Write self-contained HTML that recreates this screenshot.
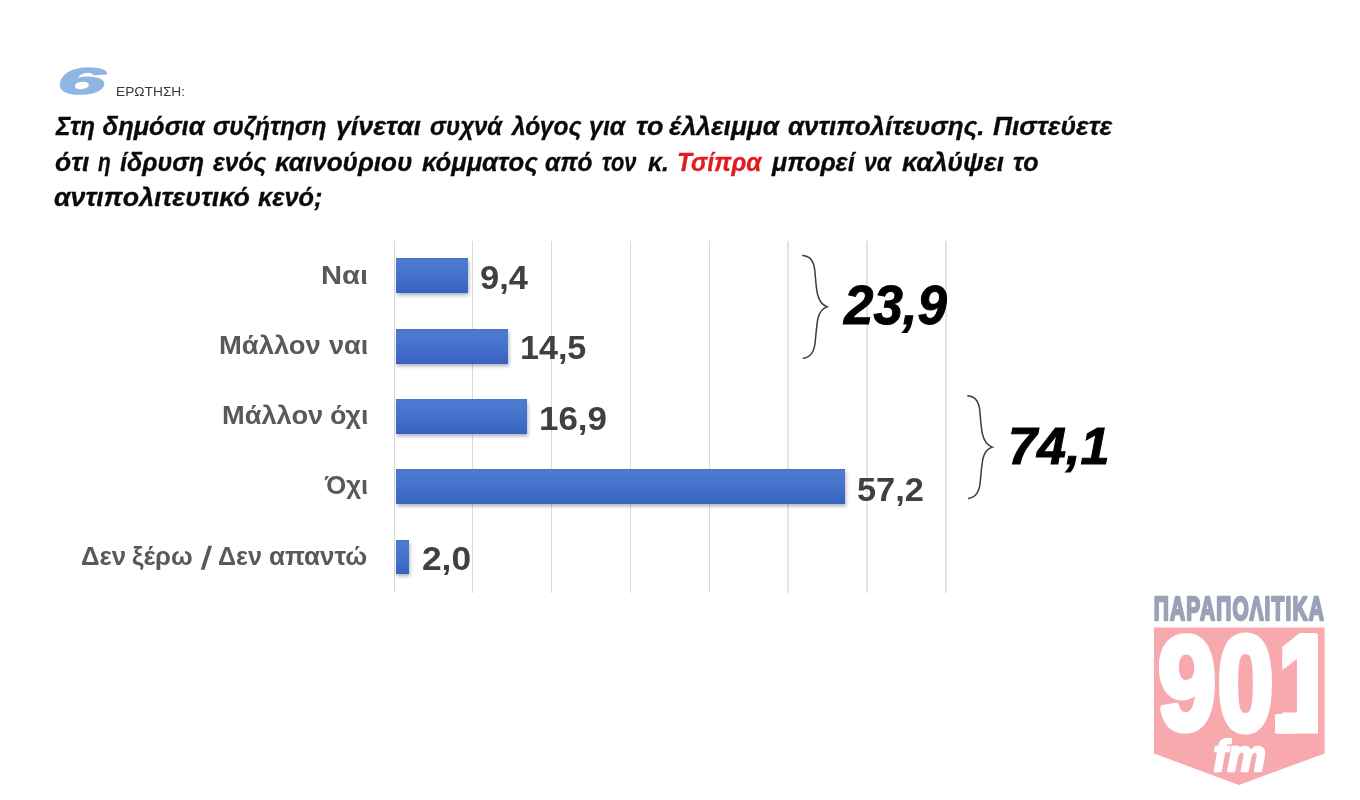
<!DOCTYPE html>
<html lang="el">
<head>
<meta charset="utf-8">
<title>Ερώτηση 6</title>
<style>
html,body{margin:0;padding:0;}
body{width:1360px;height:800px;background:#fff;position:relative;overflow:hidden;
  font-family:"Liberation Sans",sans-serif;}
.abs{position:absolute;white-space:nowrap;line-height:1;transform-origin:0 0;display:block;}
.tl{font-weight:bold;font-style:italic;font-size:25.5px;color:#0a0a0a;-webkit-text-stroke-width:0.3px;}
.red{color:#e21a22;}
.cat{font-weight:bold;font-size:25.6px;color:#595959;}
.val{font-weight:bold;font-size:32.4px;color:#404040;}
.big{font-weight:bold;font-style:italic;font-size:55.8px;color:#000;-webkit-text-stroke-width:1px;}
.erot{font-size:13.2px;color:#3a3a3a;}
.bar{position:absolute;left:396px;height:34.5px;
  background:linear-gradient(180deg,#4671c6 0%,#4e7bd1 8%,#4876cd 35%,#3f6cc7 70%,#3862bf 100%);
  box-shadow:1px 2.5px 3.5px rgba(70,75,100,.42);}
.grid{position:absolute;top:240.5px;height:352px;width:1.4px;background:#d8d8d8;}
</style>
</head>
<body>

<!-- header -->
<svg class="abs" style="left:0;top:0" width="400" height="110" viewBox="0 0 400 110"><text id="q6" transform="translate(57.8,94.3) scale(2.27,1)" font-family="Liberation Sans, sans-serif" font-weight="bold" font-style="italic" font-size="37.5" fill="#8fb5e3" stroke="#8fb5e3" stroke-width="1.6" stroke-linejoin="round">6</text></svg>
<span class="abs erot" style="left:116.46px;top:85.00px;transform:scaleX(1.0412)">ΕΡΩΤΗΣΗ:</span>

<!-- question -->
<span class="abs tl" style="left:55.72px;top:114.00px;transform:scaleX(0.9627)">Στη</span>
<span class="abs tl" style="left:102.60px;top:114.00px;transform:scaleX(1.0000)">δημόσια</span>
<span class="abs tl" style="left:213.03px;top:114.00px;transform:scaleX(0.9642)">συζήτηση</span>
<span class="abs tl" style="left:336.19px;top:114.00px;transform:scaleX(1.0486)">γίνεται</span>
<span class="abs tl" style="left:429.89px;top:114.00px;transform:scaleX(0.9416)">συχνά</span>
<span class="abs tl" style="left:511.80px;top:114.00px;transform:scaleX(0.9612)">λόγος</span>
<span class="abs tl" style="left:589.38px;top:114.00px;transform:scaleX(0.9796)">για</span>
<span class="abs tl" style="left:636.37px;top:114.00px;transform:scaleX(1.0586)">το</span>
<span class="abs tl" style="left:668.74px;top:114.00px;transform:scaleX(1.0350)">έλλειμμα</span>
<span class="abs tl" style="left:787.59px;top:114.00px;transform:scaleX(1.0160)">αντιπολίτευσης.</span>
<span class="abs tl" style="left:992.84px;top:114.00px;transform:scaleX(1.0383)">Πιστεύετε</span>
<span class="abs tl" style="left:54.82px;top:150.00px;transform:scaleX(1.0359)">ότι</span>
<span class="abs tl" style="left:97.89px;top:150.00px;transform:scaleX(0.8207)">η</span>
<span class="abs tl" style="left:119.86px;top:150.00px;transform:scaleX(0.9821)">ίδρυση</span>
<span class="abs tl" style="left:212.86px;top:150.00px;transform:scaleX(0.9620)">ενός</span>
<span class="abs tl" style="left:274.74px;top:150.00px;transform:scaleX(1.0225)">καινούριου</span>
<span class="abs tl" style="left:421.65px;top:150.00px;transform:scaleX(1.0052)">κόμματος</span>
<span class="abs tl" style="left:545.12px;top:150.00px;transform:scaleX(0.9596)">από</span>
<span class="abs tl" style="left:602.07px;top:150.00px;transform:scaleX(0.8544)">τον</span>
<span class="abs tl" style="left:647.86px;top:150.00px;transform:scaleX(0.9766)">κ.</span>
<span class="abs tl red" style="left:677.07px;top:150.00px;transform:scaleX(0.9599)">Τσίπρα</span>
<span class="abs tl" style="left:771.99px;top:150.00px;transform:scaleX(0.9855)">μπορεί</span>
<span class="abs tl" style="left:863.87px;top:150.00px;transform:scaleX(0.9042)">να</span>
<span class="abs tl" style="left:901.64px;top:150.00px;transform:scaleX(1.0514)">καλύψει</span>
<span class="abs tl" style="left:1013.26px;top:150.00px;transform:scaleX(0.9838)">το</span>
<span class="abs tl" style="left:54.48px;top:185.00px;transform:scaleX(1.0480)">αντιπολιτευτικό</span>
<span class="abs tl" style="left:257.85px;top:185.00px;transform:scaleX(0.9945)">κενό;</span>

<!-- grid -->
<div class="grid" style="left:393.8px"></div>
<div class="grid" style="left:471.8px"></div>
<div class="grid" style="left:550.8px"></div>
<div class="grid" style="left:629.8px"></div>
<div class="grid" style="left:708.8px"></div>
<div class="grid" style="left:787.20px;width:1.6px;background:#e4e4e4"></div>
<div class="grid" style="left:866.20px;width:1.6px;background:#e4e4e4"></div>
<div class="grid" style="left:945.20px;width:1.6px;background:#e4e4e4"></div>

<!-- bars -->
<div class="bar" style="top:258px;width:72px"></div>
<div class="bar" style="top:329px;width:112px"></div>
<div class="bar" style="top:399.4px;width:131px"></div>
<div class="bar" style="top:469.4px;width:449px"></div>
<div class="bar" style="top:539.8px;width:13.4px"></div>

<!-- category labels -->
<span class="abs cat" style="left:321.11px;top:263.00px;transform:scaleX(1.1377)">Ναι</span>
<span class="abs cat" style="left:219.38px;top:333.00px;transform:scaleX(1.0705)">Μάλλον</span>
<span class="abs cat" style="left:328.75px;top:333.00px;transform:scaleX(1.0597)">ναι</span>
<span class="abs cat" style="left:221.89px;top:403.00px;transform:scaleX(1.0640)">Μάλλον</span>
<span class="abs cat" style="left:329.55px;top:403.00px;transform:scaleX(1.0522)">όχι</span>
<span class="abs cat" style="left:324.65px;top:473.00px;transform:scaleX(1.0059)">Όχι</span>
<span class="abs cat" style="left:80.89px;top:544.00px;transform:scaleX(1.0082)">Δεν</span>
<span class="abs cat" style="left:132.35px;top:544.00px;transform:scaleX(1.0051)">ξέρω</span>
<span class="abs cat" style="left:203.58px;top:542.00px;font-size:32px;transform:skewX(-7.32deg)">/</span>
<span class="abs cat" style="left:218.42px;top:544.00px;transform:scaleX(0.9789)">Δεν</span>
<span class="abs cat" style="left:268.99px;top:544.00px;transform:scaleX(1.0132)">απαντώ</span>

<!-- value labels -->
<span class="abs val" style="left:479.92px;top:262.00px;transform:scaleX(1.0632)">9,4</span>
<span class="abs val" style="left:520.40px;top:332.00px;transform:scaleX(1.0517)">14,5</span>
<span class="abs val" style="left:539.10px;top:403.00px;transform:scaleX(1.0770)">16,9</span>
<span class="abs val" style="left:857.04px;top:474.00px;transform:scaleX(1.0601)">57,2</span>
<span class="abs val" style="left:421.74px;top:543.00px;transform:scaleX(1.0894)">2,0</span>

<!-- braces -->
<svg class="abs" style="left:0;top:0" width="1360" height="800" viewBox="0 0 1360 800" fill="none" stroke="#3c3c3c" stroke-width="1.5" stroke-linecap="round">
  <path id="br1" d="M802.8 255.5 C810 256 814 262 814.8 270.5 C815.8 280 816 288 817.5 294 C819 301 822 305 827.3 306.9 C822 308.5 819.5 312 818 318 C816.5 326 816 334 815.2 342 C814.5 350 811 357 803.5 358.3"/>
  <path id="br2" transform="translate(165,140.2)" d="M802.8 255.5 C810 256 814 262 814.8 270.5 C815.8 280 816 288 817.5 294 C819 301 822 305 827.3 306.9 C822 308.5 819.5 312 818 318 C816.5 326 816 334 815.2 342 C814.5 350 811 357 803.5 358.3"/>
</svg>

<!-- totals -->
<span class="abs big" style="left:843.92px;top:277.00px;transform:scaleX(0.9469)">23,9</span>
<span class="abs big" style="left:1008.23px;top:421.00px;font-size:51.9px;transform:scaleX(1.0052)">74,1</span>

<!-- logo -->
<svg width="1360" height="800" viewBox="0 0 1360 800" style="position:absolute;left:0;top:0">
<defs><clipPath id="c1"><rect x="1282.4" y="620" width="35.6" height="130"/></clipPath></defs>
<polygon points="1154,627.6 1324.6,627.6 1324.6,753.5 1239,785 1154,753.5" fill="#f7a9ad"/>
<text transform="translate(1153.74,620.29) scale(0.5636,0.9034)" font-family="Liberation Sans, sans-serif" font-weight="bold" font-size="37" stroke-width="2.8" letter-spacing="2.2" fill="#9aa2b7" stroke="#9aa2b7" stroke-linejoin="round" >ΠΑΡΑΠΟΛΙΤΙΚΑ</text>
<text transform="translate(1158.11,729.02) scale(0.7901,1.0037)" font-family="Liberation Sans, sans-serif" font-weight="bold" font-size="132" stroke-width="7" fill="#fff" stroke="#fff" stroke-linejoin="round" >9</text>
<text transform="translate(1217.73,729.78) scale(0.7593,1.0116)" font-family="Liberation Sans, sans-serif" font-weight="bold" font-size="132" stroke-width="7" fill="#fff" stroke="#fff" stroke-linejoin="round" >0</text>
<text transform="translate(1268.70,732.04) scale(0.9000,0.8324)" font-family="Liberation Sans, sans-serif" font-weight="bold" font-size="132" stroke-width="4" fill="#fff" stroke="#fff" stroke-linejoin="round" >.</text>
<g clip-path="url(#c1)"><text transform="translate(1274.04,729.93) scale(0.84,1.0276)" font-family="Liberation Sans, sans-serif" font-weight="bold" font-size="132" stroke-width="7" fill="#fff" stroke="#fff" stroke-linejoin="round">1</text></g>
<text transform="translate(1213.16,770.96) scale(1.0281,1.0361)" font-family="Liberation Sans, sans-serif" font-weight="bold" font-style="italic" font-size="42" stroke-width="2.2" fill="#fff" stroke="#fff" stroke-linejoin="round" >fm</text>
</svg>

</body>
</html>
